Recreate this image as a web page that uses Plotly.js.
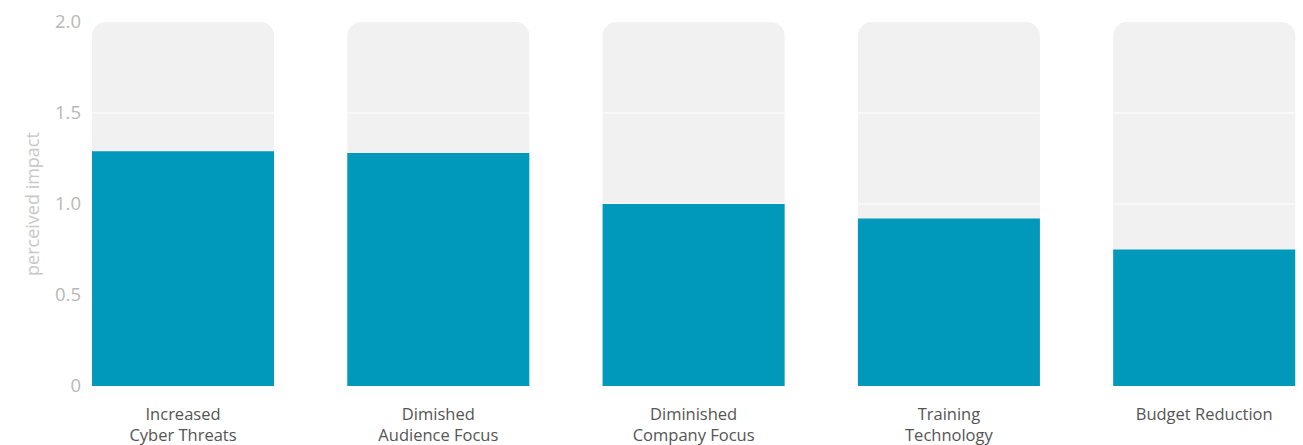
<!DOCTYPE html>
<html>
<head>
<meta charset="utf-8">
<script src="https://cdn.plot.ly/plotly-3.0.1.min.js"></script>
<style>
  html, body { margin: 0; padding: 0; background: #fff; }
  #chart { width: 1303px; height: 445px; }
</style>
</head>
<body>
<div id="chart"></div>
<script>
// ---- data ----
const categories = [
  "Increased<br>Cyber Threats",
  "Dimished<br>Audience Focus",
  "Diminished<br>Company Focus",
  "Training<br>Technology",
  "Budget Reduction"
];
const impactValues = [1.29, 1.28, 1.00, 0.92, 0.75];
const scaleMax = 2.0;
const tickValues = [0, 0.5, 1.0, 1.5, 2.0];
const tickLabels = ["0", "0.5", "1.0", "1.5", "2.0"];
const yTitle = "perceived impact";

// ---- styling ----
const TEAL = "#0099bc";
const TRACK = "#f1f1f1";
const BAR_W = 0.713;
const LINE_H = 0.006;

const traces = [];
// background track bars (full scale)
traces.push({
  type: "bar",
  x: categories,
  y: categories.map(() => scaleMax),
  width: BAR_W,
  marker: { color: TRACK, cornerradius: 14 },
  hoverinfo: "skip",
  showlegend: false
});
// white grid lines across the tracks (drawn under the value bars)
tickValues.filter(v => v > 0 && v < scaleMax).forEach(v => {
  traces.push({
    type: "bar",
    x: categories,
    y: categories.map(() => LINE_H),
    base: categories.map(() => v - LINE_H / 2),
    width: BAR_W,
    marker: { color: "#ffffff" },
    hoverinfo: "skip",
    showlegend: false
  });
});
// value bars
traces.push({
  type: "bar",
  x: categories,
  y: impactValues,
  width: BAR_W,
  marker: { color: TEAL },
  showlegend: false
});

const layout = {
  width: 1303,
  height: 445,
  margin: { l: 86, r: 0, t: 22, b: 59 },
  paper_bgcolor: "#ffffff",
  plot_bgcolor: "#ffffff",
  barmode: "overlay",
  font: { family: "Open Sans, sans-serif" },
  xaxis: {
    range: [-0.38, 4.387],
    showgrid: false,
    zeroline: false,
    showline: false,
    ticks: "",
    ticklabelstandoff: 16,
    tickfont: { size: 16.5, color: "#555555", family: "Open Sans, sans-serif" },
    fixedrange: true
  },
  yaxis: {
    range: [0, scaleMax],
    tickvals: tickValues,
    ticktext: tickLabels,
    showgrid: false,
    zeroline: false,
    showline: false,
    ticks: "",
    ticklabelstandoff: 4,
    tickfont: { size: 18.5, color: "#b8b8b8", family: "Open Sans, sans-serif" },
    title: { text: yTitle, font: { size: 18, color: "#c8c8c8", family: "Open Sans, sans-serif" }, standoff: 10 },
    fixedrange: true
  }
};

Plotly.newPlot("chart", traces, layout, { displayModeBar: false, staticPlot: true });
</script>
</body>
</html>
